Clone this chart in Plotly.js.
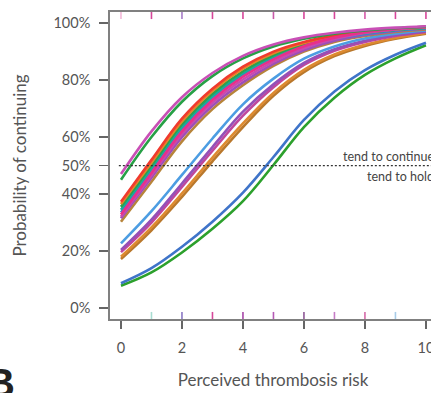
<!DOCTYPE html>
<html>
<head>
<meta charset="utf-8">
<script src="https://cdn.plot.ly/plotly-3.0.1.min.js"></script>
<style>
html,body{margin:0;padding:0;overflow:hidden;background:#fff;width:431px;height:393px;}
#chart{width:440px;height:393px;}
</style>
</head>
<body>
<div id="chart"></div>
<script>
// Perceived thrombosis risk (x) at which each curve was read
const riskX = [0, 1, 2, 3, 4, 5, 6, 7, 8, 9, 10];

// Probability of continuing (%) for each curve
const topMagenta = [47.0, 62.0, 74.0, 82.5, 88.5, 92.5, 95.0, 96.6, 97.7, 98.4, 98.9];
const topGreen   = [45.0, 60.0, 72.4, 81.4, 87.6, 91.8, 94.5, 96.3, 97.4, 98.2, 98.7];
const bRed       = [37.3, 52.0, 66.5, 77.0, 84.7, 90.0, 93.4, 95.6, 97.0, 98.0, 98.6];
const bOrange    = [36.5, 51.0, 65.5, 76.2, 84.0, 89.4, 93.0, 95.3, 96.8, 97.8, 98.5];
const bGreen     = [35.5, 50.0, 64.5, 75.2, 83.1, 88.8, 92.6, 95.0, 96.6, 97.7, 98.4];
const bTeal      = [34.5, 49.0, 63.5, 74.3, 82.3, 88.2, 92.2, 94.8, 96.4, 97.6, 98.3];
const bBlue      = [33.5, 48.0, 62.5, 73.4, 81.5, 87.5, 91.7, 94.5, 96.2, 97.4, 98.2];
const bPurple    = [31.5, 45.7, 60.0, 71.0, 79.2, 85.7, 90.5, 93.8, 95.8, 97.2, 98.0];
const bBrown     = [30.3, 44.3, 58.5, 69.8, 78.2, 85.0, 90.0, 93.4, 95.5, 96.9, 97.8];
const bMagenta   = [32.0, 46.6, 61.0, 72.0, 80.2, 86.5, 91.2, 94.4, 96.5, 97.8, 98.6];
const bPink      = [32.8, 47.4, 62.0, 73.0, 81.2, 87.3, 91.9, 94.9, 96.8, 98.0, 98.8];
const mLightBlue = [22.7, 34.0, 46.7, 59.5, 71.5, 80.5, 87.5, 91.8, 94.6, 96.3, 97.4];
const mPurple    = [20.4, 31.0, 43.7, 56.5, 68.9, 78.5, 86.0, 90.8, 93.8, 95.8, 97.1];
const mMagenta   = [19.6, 30.0, 42.5, 55.2, 67.5, 77.5, 85.3, 90.3, 93.4, 95.5, 96.9];
const mOrange    = [18.0, 28.3, 40.2, 52.8, 64.8, 75.5, 83.6, 89.0, 92.4, 94.8, 96.5];
const mBrown     = [17.2, 27.3, 39.0, 51.5, 63.5, 74.5, 82.8, 88.4, 92.0, 94.5, 96.3];
const lowBlue    = [8.7, 14.0, 21.5, 30.3, 40.5, 53.0, 66.0, 76.0, 83.5, 88.9, 93.1];
const lowGreen   = [7.8, 12.5, 19.5, 27.8, 37.5, 50.2, 63.5, 73.8, 81.8, 87.6, 92.2];

const seriesList = [
  [lowGreen, '#2ca02c'], [lowBlue, '#3f74c9'],
  [mBrown, '#b9782c'], [mOrange, '#dd8a30'], [mMagenta, '#c0479c'], [mPurple, '#9450b8'], [mLightBlue, '#4c9de2'],
  [bBrown, '#b7843a'], [bPurple, '#9b50b8'], [bBlue, '#3c82d2'], [bTeal, '#19a8a0'], [bGreen, '#2ca24c'],
  [bOrange, '#e8832a'], [bRed, '#f03a2e'], [bMagenta, '#c84ab0'], [bPink, '#e8308a'],
  [topGreen, '#27a046'], [topMagenta, '#c94fb6']
];

// axis ticks
const yTickVals = [0, 20, 40, 50, 60, 80, 100];
const yTickText = ['0%', '20%', '40%', '50%', '60%', '80%', '100%'];
const xTickVals = [0, 2, 4, 6, 8, 10];

// rug marks along top and bottom
const rugTopX = [0, 1, 2, 3, 4, 5, 6, 7, 8, 9, 10];
const rugTopColor = ['#f3b8d8', '#d6479a', '#a77cc8', '#d6479a', '#d6479a', '#c85aa8', '#d6479a', '#d6479a', '#d65aa8', '#d6479a', '#d6479a'];
const rugBotX = [1, 2, 3, 4, 5, 6, 7, 8, 9];
const rugBotColor = ['#a9ddd2', '#8a78c4', '#d6479a', '#a846a8', '#b55ab5', '#8e5896', '#c67cc6', '#d66aa8', '#a8cce8'];

const traces = seriesList.map(([ys, col]) => ({
  x: riskX, y: ys, type: 'scatter', mode: 'lines',
  line: {color: col, width: 2.6, shape: 'spline', smoothing: 1},
  hoverinfo: 'skip', showlegend: false
}));

const shapes = [];
rugTopX.forEach((x, i) => shapes.push({type: 'line', xref: 'x', yref: 'paper', x0: x, x1: x, y0: 1, y1: 0.977, line: {color: rugTopColor[i], width: 1.6}}));
rugBotX.forEach((x, i) => shapes.push({type: 'line', xref: 'x', yref: 'paper', x0: x, x1: x, y0: 0, y1: 0.023, line: {color: rugBotColor[i], width: 1.6}}));
shapes.push({type: 'line', xref: 'x', yref: 'y', x0: -0.07, x1: 10.4, y0: 50, y1: 50, line: {color: '#333', width: 1.2, dash: '2px,2px'}});

const axisFont = {family: 'Lato, sans-serif', size: 14.5, color: '#555'};
const titleFont = {family: 'Lato, sans-serif', size: 17, color: '#555'};

const layout = {
  width: 440, height: 393,
  margin: {l: 110, r: 4, t: 12, b: 74},
  paper_bgcolor: '#fff', plot_bgcolor: '#fff',
  showlegend: false,
  xaxis: {
    range: [-0.36, 10.33], tickvals: xTickVals, ticks: 'outside', ticklen: 8, tickwidth: 1.5, tickcolor: '#666',
    showline: true, linecolor: '#808080', linewidth: 1.8, mirror: true, showgrid: false, zeroline: false,
    tickfont: axisFont, ticklabelstandoff: 7,
    title: {text: 'Perceived thrombosis risk', font: titleFont, standoff: 19}
  },
  yaxis: {
    range: [-3.86, 103.9], tickvals: yTickVals, ticktext: yTickText, ticks: 'outside', ticklen: 9, tickwidth: 1.5, tickcolor: '#666',
    showline: true, linecolor: '#808080', linewidth: 1.8, mirror: true, showgrid: false, zeroline: false,
    tickfont: axisFont, ticklabelstandoff: 6,
    title: {text: 'Probability of continuing', font: titleFont, standoff: 22}
  },
  shapes: shapes,
  annotations: [
    {x: 1.0, y: 50, xref: 'paper', yref: 'y', xanchor: 'right', yanchor: 'bottom', yshift: 0, text: 'tend to continue', showarrow: false, font: {family: 'Lato, sans-serif', size: 12.5, color: '#444'}},
    {x: 1.0, y: 50, xref: 'paper', yref: 'y', xanchor: 'right', yanchor: 'top', yshift: -1, text: 'tend to hold', showarrow: false, font: {family: 'Lato, sans-serif', size: 12.5, color: '#444'}},
    {x: -0.285, y: -0.13, xref: 'paper', yref: 'paper', xanchor: 'right', yanchor: 'top', text: '<b>B</b>', showarrow: false, font: {family: 'Liberation Sans, Arial, sans-serif', size: 40, color: '#222'}}
  ]
};

Plotly.newPlot('chart', traces, layout, {staticPlot: true, displayModeBar: false});
</script>
</body>
</html>
